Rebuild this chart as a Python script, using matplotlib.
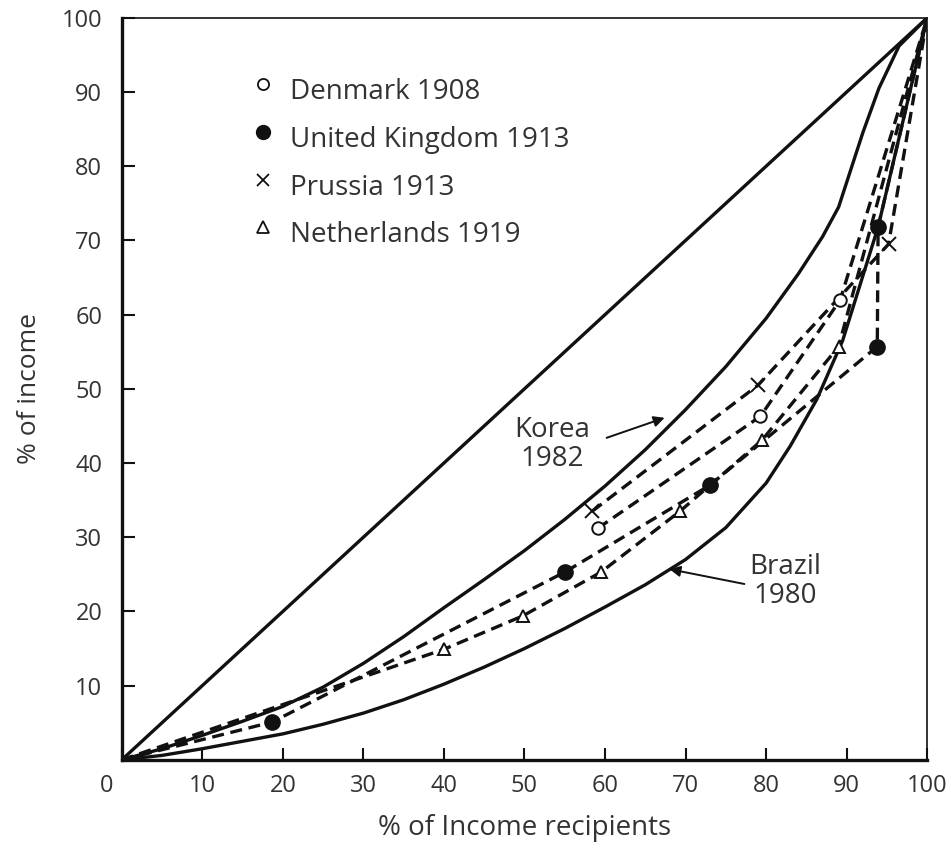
import matplotlib
matplotlib.use("Agg")
import matplotlib.pyplot as plt
from matplotlib.transforms import ScaledTranslation

plt.rcParams['font.family'] = ['Open Sans', 'DejaVu Sans']

# Lorenz curves (% of income recipients, % of income)
korea_x = [0, 5, 10, 15, 20, 25, 30, 35, 40, 45, 50, 55, 60, 65, 70, 75, 80, 84, 87, 89, 90.5, 92, 94, 96.5, 100]
korea_y = [0, 1.5, 3.3, 5.2, 7.2, 9.8, 13, 16.6, 20.5, 24.3, 28.2, 32.4, 36.9, 41.8, 47.2, 53, 59.5, 65.5, 70.5, 74.5, 79.5, 84.5, 90.5, 96.2, 100]
brazil_x = [0, 5, 10, 15, 20, 25, 30, 35, 40, 45, 50, 55, 60, 65, 70, 75, 80, 83, 86.3, 89.5, 93.9, 100]
brazil_y = [0, 0.6, 1.5, 2.5, 3.5, 4.8, 6.3, 8.1, 10.2, 12.5, 15, 17.7, 20.6, 23.6, 27, 31.3, 37.3, 42.3, 48.6, 56.5, 71.8, 100]

denmark_x = [59.1, 79.3, 89.2, 100]
denmark_y = [31.2, 46.3, 62.0, 100]
uk_x = [0, 18.7, 55.0, 73.0, 93.8, 93.9, 100]
uk_y = [0, 5.1, 25.3, 37.0, 55.7, 71.8, 100]
prussia_x = [58.4, 79.0, 95.2, 100]
prussia_y = [33.5, 50.5, 69.5, 100]
nl_x = [0, 40.0, 49.8, 59.5, 69.3, 79.5, 89.0, 100]
nl_y = [0, 14.9, 19.4, 25.3, 33.5, 43.1, 55.7, 100]

legend_labels = ["Denmark 1908", "United Kingdom 1913", "Prussia 1913", "Netherlands 1919"]
ticks = [0, 10, 20, 30, 40, 50, 60, 70, 80, 90, 100]

fig = plt.figure(figsize=(9.51, 8.49), dpi=100)
ax = fig.add_axes([0.128, 0.105, 0.847, 0.874])

ink = "#111111"
txt = "#333333"
ax.plot([0, 100], [0, 100], color=ink, lw=2.4)
ax.plot(korea_x, korea_y, color=ink, lw=2.4)
ax.plot(brazil_x, brazil_y, color=ink, lw=2.4)

dash = dict(color=ink, lw=2.4, dashes=(3.6, 2.0))
ax.plot(prussia_x, prussia_y, **dash)
ax.plot(denmark_x, denmark_y, **dash)
ax.plot(uk_x, uk_y, **dash)
ax.plot(nl_x, nl_y, **dash)

# markers (corner points are not observations)
ax.plot(denmark_x[:-1], denmark_y[:-1], ls='none', marker='o', ms=9, mfc='white', mec=ink, mew=1.4)
ax.plot(uk_x[1:-1], uk_y[1:-1], ls='none', marker='o', ms=11, mfc=ink, mec=ink)
ax.plot(prussia_x[:-1], prussia_y[:-1], ls='none', marker='x', ms=10, mec=ink, mew=1.4)
ax.plot(nl_x[1:-1], nl_y[1:-1], ls='none', marker='^', ms=9, mfc='white', mec=ink, mew=1.4)

# key
key_y = [90.5, 84.0, 77.6, 71.2]
key_m = [dict(marker='o', ms=8, mfc='white', mec=ink, mew=1.3),
         dict(marker='o', ms=10, mfc=ink, mec=ink),
         dict(marker='x', ms=9, mec=ink, mew=1.3),
         dict(marker='^', ms=8, mfc='white', mec=ink, mew=1.3)]
for yy, lab, m in zip(key_y, legend_labels, key_m):
    ax.plot([17.5], [yy + 0.6], ls='none', **m)
    ax.text(20.9, yy, lab, fontsize=20, color=txt, va='center_baseline', ha='left')

ax.text(53.5, 42.5, "Korea\n1982", fontsize=20, color=txt, ha='center', va='center', linespacing=1.05)
ax.annotate("", xy=(67.4, 46.1), xytext=(60.2, 43.4),
            arrowprops=dict(arrowstyle='-|>', color=ink, lw=1.4, shrinkA=0, shrinkB=0, mutation_scale=16))
ax.text(82.4, 24.0, "Brazil\n1980", fontsize=20, color=txt, ha='center', va='center', linespacing=1.05)
ax.annotate("", xy=(68.0, 25.7), xytext=(77.3, 23.7),
            arrowprops=dict(arrowstyle='-|>', color=ink, lw=1.4, shrinkA=0, shrinkB=0, mutation_scale=16))

ax.set_xlim(0, 100)
ax.set_ylim(0, 100)
ax.set_xticks(ticks)
ax.set_yticks(ticks[1:])
ax.tick_params(direction='in', length=9, width=1.5, labelsize=17, labelcolor=txt, color=ink)
ax.tick_params(axis='x', pad=10)
ax.tick_params(axis='y', pad=14)
lab0 = ax.get_xticklabels()[0]
lab0.set_transform(lab0.get_transform() + ScaledTranslation(-0.15, 0, fig.dpi_scale_trans))
for s in ['left', 'bottom']:
    ax.spines[s].set_linewidth(2.4)
for s in ['top', 'right']:
    ax.spines[s].set_linewidth(1.2)
for s in ax.spines.values():
    s.set_color(ink)

ax.set_xlabel("% of Income recipients", fontsize=20, color=txt, labelpad=12)
ax.set_ylabel("% of income", fontsize=19, color=txt, labelpad=14)

fig.savefig("out.png", dpi=100)
